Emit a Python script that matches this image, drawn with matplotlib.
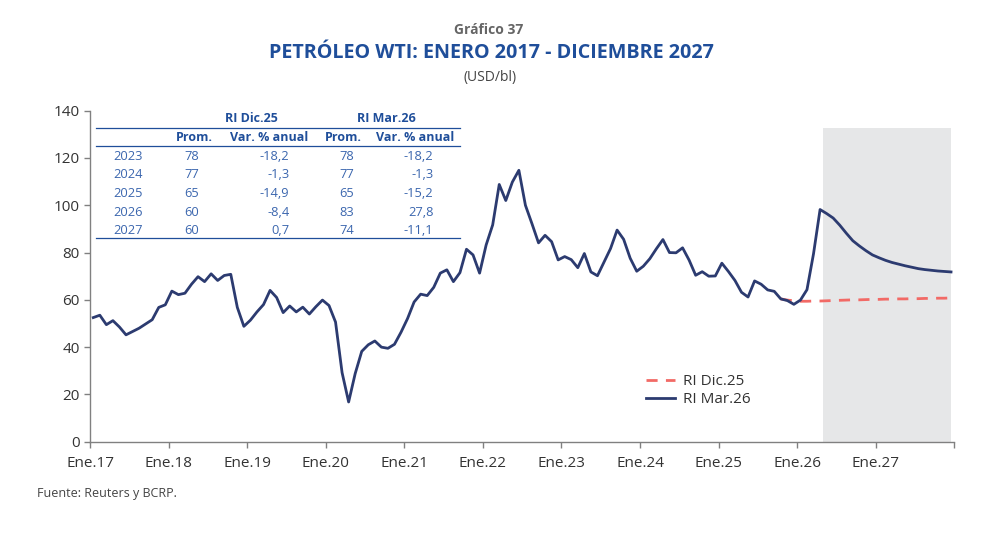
import matplotlib
matplotlib.use('Agg')
import matplotlib.pyplot as plt
from matplotlib.lines import Line2D

plt.rcParams['font.family'] = ['Open Sans', 'DejaVu Sans']

# monthly WTI, Jan 2017 - Dec 2027 (USD/bl)
ri_mar26 = [
    52.5, 53.5, 49.5, 51.2, 48.5, 45.2, 46.6, 48.0, 49.8, 51.6, 56.8, 57.9,
    63.7, 62.2, 62.8, 66.6, 69.8, 67.7, 71.0, 68.2, 70.3, 70.8, 56.8, 48.8,
    51.4, 54.9, 58.0, 64.0, 61.0, 54.6, 57.4, 54.9, 56.9, 54.0, 57.1, 59.9,
    57.6, 50.6, 29.2, 16.8, 28.8, 38.2, 41.0, 42.6, 40.0, 39.5, 41.2, 46.3,
    52.1, 59.1, 62.4, 61.8, 65.3, 71.3, 72.7, 67.7, 71.5, 81.4, 79.0, 71.3,
    83.2, 91.7, 108.8, 102.0, 109.8, 114.8, 100.0, 92.2, 84.1, 87.3, 84.6, 76.9,
    78.3, 77.0, 73.6, 79.6, 71.8, 70.2, 76.0, 81.7, 89.5, 85.6, 77.6, 72.1,
    74.2, 77.4, 81.6, 85.5, 80.0, 79.9, 82.0, 76.8, 70.4, 71.9, 70.0, 70.1,
    75.5, 72.0, 68.2, 63.2, 61.2, 68.0, 66.6, 64.2, 63.6, 60.4, 59.7, 58.1,
    59.9, 64.3, 79.5, 98.2, 96.5, 94.6, 91.6, 88.2, 85.0, 82.8, 80.8, 79.0,
    77.8, 76.7, 75.8, 75.1, 74.4, 73.8, 73.2, 72.8, 72.5, 72.2, 72.0, 71.8,
]
# RI Dic.25 path, Oct 2025 - Dec 2027
dic25_start = 105
ri_dic25 = [
    60.4, 59.9, 59.6,
    59.4, 59.4, 59.5, 59.5, 59.6, 59.7, 59.8, 59.9, 60.0, 60.0, 60.1, 60.2,
    60.2, 60.3, 60.3, 60.4, 60.4, 60.5, 60.5, 60.6, 60.6, 60.7, 60.7, 60.8,
]
shade_from = 112   # May 2026
shade_to = 131.5
shade_top = 132.7

tick_labels = ['Ene.17', 'Ene.18', 'Ene.19', 'Ene.20', 'Ene.21', 'Ene.22',
               'Ene.23', 'Ene.24', 'Ene.25', 'Ene.26', 'Ene.27', '']

# table
years = ['2023', '2024', '2025', '2026', '2027']
prom_dic = ['78', '77', '65', '60', '60']
var_dic = ['-18,2', '-1,3', '-14,9', '-8,4', '0,7']
prom_mar = ['78', '77', '65', '83', '74']
var_mar = ['-18,2', '-1,3', '-15,2', '27,8', '-11,1']

W, H = 1001, 535
TITLE_BLUE = '#1F4E9A'
TAB_BLUE = '#3B66AE'
LINE_BLUE = '#2C3B70'
RED = '#F26A66'
GREY = '#444444'


def fx(px):
    return px / W


def fy(py):
    return 1 - py / H


fig = plt.figure(figsize=(W / 100, H / 100), dpi=100)
ax = fig.add_axes([fx(90), fy(441.7), fx(954.3) - fx(90), fy(110.7) - fy(441.7)])

x_all = [i + 0.5 for i in range(len(ri_mar26))]
x_dic = [dic25_start + i + 0.5 for i in range(len(ri_dic25))]

ax.axvspan(shade_from, shade_to, ymin=0, ymax=shade_top / 140, color='#E6E7E8', lw=0, zorder=0)
ax.plot(x_dic, ri_dic25, color=RED, lw=2.0, dashes=(4, 3), label='RI Dic.25', zorder=2)
ax.plot(x_all, ri_mar26, color=LINE_BLUE, lw=2.0, label='RI Mar.26', zorder=3)

ax.set_xlim(0, 132)
ax.set_ylim(0, 140)
ax.set_xticks(range(0, 133, 12))
ax.set_xticklabels(tick_labels)
ax.set_yticks(range(0, 141, 20))
for s in ['top', 'right']:
    ax.spines[s].set_visible(False)
for s in ['left', 'bottom']:
    ax.spines[s].set_color('#808080')
    ax.spines[s].set_linewidth(1.0)
ax.tick_params(axis='both', colors='#808080', labelcolor='#333333', labelsize=11, length=4.5, width=1.0)
ax.tick_params(axis='x', pad=6)
ax.tick_params(axis='y', pad=3)

leg = ax.legend(loc='upper left', bbox_to_anchor=(fx(640), fy(368)), bbox_transform=fig.transFigure,
                frameon=False, fontsize=11, handlelength=1.9, handletextpad=0.5, labelspacing=0.2,
                borderaxespad=0)
for t in leg.get_texts():
    t.set_color('#333333')

# titles
fig.text(fx(489), fy(30), 'Gráfico 37', ha='center', va='center', fontsize=10,
         fontweight='bold', color='#666666')
fig.text(fx(491), fy(53), 'PETRÓLEO WTI: ENERO 2017 - DICIEMBRE 2027', ha='center', va='center',
         fontsize=14.2, fontweight='bold', color=TITLE_BLUE)
fig.text(fx(490), fy(78), '(USD/bl)', ha='center', va='center', fontsize=10, color=GREY)
fig.text(fx(37), fy(493), 'Fuente: Reuters y BCRP.', ha='left', va='center', fontsize=9, color=GREY)

# table inset
for ly in [127.7, 146, 238.3]:
    fig.add_artist(Line2D([fx(96), fx(460)], [fy(ly), fy(ly)], color=TITLE_BLUE, lw=0.9))
fig.text(fx(251), fy(118.5), 'RI Dic.25', ha='center', va='center', fontsize=9, fontweight='bold', color=TITLE_BLUE)
fig.text(fx(386), fy(118.5), 'RI Mar.26', ha='center', va='center', fontsize=9, fontweight='bold', color=TITLE_BLUE)
for cx, txt in [(194, 'Prom.'), (343, 'Prom.')]:
    fig.text(fx(cx), fy(137.3), txt, ha='center', va='center', fontsize=9, fontweight='bold', color=TITLE_BLUE)
for rx, txt in [(308.5, 'Var. % anual'), (454.5, 'Var. % anual')]:
    fig.text(fx(rx), fy(137.3), txt, ha='right', va='center', fontsize=9, fontweight='bold', color=TITLE_BLUE)

row_y = [156.7, 175, 193.7, 212.3, 230.7]
for k in range(len(years)):
    ry = fy(row_y[k])
    fig.text(fx(128), ry, years[k], ha='center', va='center', fontsize=9.3, color=TAB_BLUE)
    fig.text(fx(192), ry, prom_dic[k], ha='center', va='center', fontsize=9.3, color=TAB_BLUE)
    fig.text(fx(289.5), ry, var_dic[k], ha='right', va='center', fontsize=9.3, color=TAB_BLUE)
    fig.text(fx(347), ry, prom_mar[k], ha='center', va='center', fontsize=9.3, color=TAB_BLUE)
    fig.text(fx(433.5), ry, var_mar[k], ha='right', va='center', fontsize=9.3, color=TAB_BLUE)

fig.savefig('out.png', dpi=100, facecolor='white')
